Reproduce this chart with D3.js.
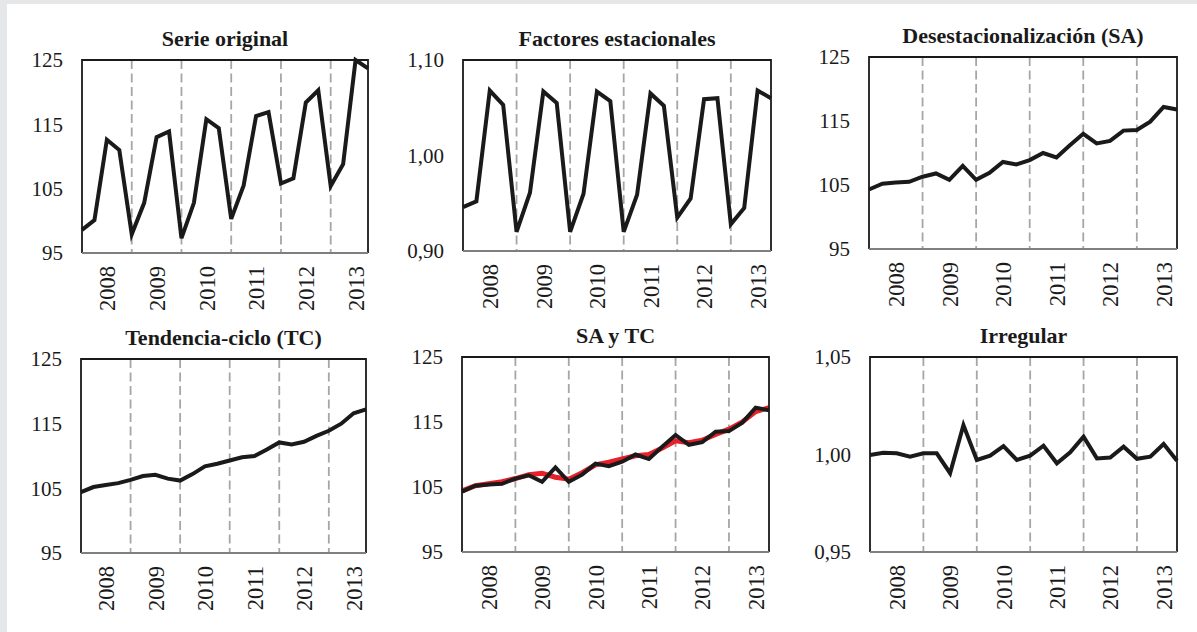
<!DOCTYPE html>
<html>
<head>
<meta charset="utf-8">
<script src="https://cdn.jsdelivr.net/npm/d3@7"></script>
<style>
  body { margin: 0; background: #e6e7e9; }
  svg { display: block; }
  text { font-family: "Liberation Serif", "Times New Roman", serif; fill: #1a1a1a; }
  .title { font-weight: bold; font-size: 22px; }
  .axis text { font-size: 21px; }
  .xaxis text { font-size: 22.5px; }
</style>
</head>
<body>
<div id="chart"></div>
<script>
// quarterly series, 24 points each
var yearLabels = ["2008", "2009", "2010", "2011", "2012", "2013"];

var serieOriginal = [98.6, 100.1, 112.6, 111.0, 97.9, 102.8, 113.0, 113.9, 97.3, 102.8, 115.8, 114.4,
    100.3, 105.5, 116.3, 116.9, 105.8, 106.6, 118.4, 120.3, 105.4, 108.8, 125.0, 123.7];

var factoresEstacionales = [0.946, 0.952, 1.068, 1.053, 0.920, 0.961, 1.067, 1.055, 0.920, 0.960, 1.067, 1.057,
    0.920, 0.959, 1.065, 1.052, 0.935, 0.955, 1.059, 1.060, 0.928, 0.945, 1.068, 1.060];

var desestacionalizada = [104.3, 105.2, 105.4, 105.5, 106.3, 106.8, 105.8, 108.0, 105.8, 106.9, 108.6, 108.2,
    108.9, 110.0, 109.3, 111.2, 113.0, 111.5, 111.9, 113.5, 113.6, 114.9, 117.2, 116.8];

var tendenciaCiclo = [104.4, 105.2, 105.5, 105.8, 106.3, 106.9, 107.1, 106.5, 106.2, 107.2, 108.4, 108.8,
    109.3, 109.8, 110.0, 111.0, 112.1, 111.8, 112.2, 113.1, 113.9, 115.0, 116.6, 117.2];

var irregular = [0.9997, 1.0009, 1.0006, 0.9989, 1.0006, 1.0006, 0.9904, 1.0151, 0.9972, 0.9994, 1.0043, 0.9972,
    0.9994, 1.0045, 0.9955, 1.0011, 1.0091, 0.998, 0.9984, 1.004, 0.9978, 0.9989, 1.0054, 0.9968];

var ticksIndice = [95, 105, 115, 125];
var ticksFactor = [0.90, 1.00, 1.10];
var ticksIrregular = [0.95, 1.00, 1.05];

var panels = [
  {title: "Serie original", box: [82, 60, 368, 253], domain: [95, 125], ticks: ticksIndice, dec: 0,
   series: [{values: serieOriginal, color: "#1a1a1a", width: 4}]},
  {title: "Factores estacionales", box: [463, 60, 771, 251], domain: [0.90, 1.10], ticks: ticksFactor, dec: 2,
   series: [{values: factoresEstacionales, color: "#1a1a1a", width: 4}]},
  {title: "Desestacionalización (SA)", box: [869, 57, 1177, 249], domain: [95, 125], ticks: ticksIndice, dec: 0,
   series: [{values: desestacionalizada, color: "#1a1a1a", width: 4}]},
  {title: "Tendencia-ciclo (TC)", box: [81, 359, 366, 553], domain: [95, 125], ticks: ticksIndice, dec: 0,
   series: [{values: tendenciaCiclo, color: "#1a1a1a", width: 4}]},
  {title: "SA y TC", box: [462, 357, 769, 552], domain: [95, 125], ticks: ticksIndice, dec: 0,
   series: [{values: tendenciaCiclo, color: "#e8202a", width: 5},
            {values: desestacionalizada, color: "#1a1a1a", width: 4}]},
  {title: "Irregular", box: [870, 357, 1177, 552], domain: [0.95, 1.05], ticks: ticksIrregular, dec: 2,
   series: [{values: irregular, color: "#1a1a1a", width: 4}]}
];

var svg = d3.select("#chart").append("svg")
    .attr("width", 1197)
    .attr("height", 632);

// white card with grey strip on top / left
svg.append("rect")
    .attr("x", 7).attr("y", 4)
    .attr("width", 1190).attr("height", 628)
    .attr("fill", "#ffffff");

panels.forEach(function(p) {
  var x0 = p.box[0], y0 = p.box[1], x1 = p.box[2], y1 = p.box[3];
  var n = p.series[0].values.length;

  var xScale = d3.scaleLinear().domain([0, n - 1]).range([x0, x1]);
  var yScale = d3.scaleLinear().domain(p.domain).range([y1, y0]);

  var g = svg.append("g");

  // dashed separators between years
  var sep = d3.range(4, n - 1, 4);
  g.selectAll("line.sep").data(sep).enter().append("line")
      .attr("class", "sep")
      .attr("x1", d => xScale(d)).attr("x2", d => xScale(d))
      .attr("y1", y0).attr("y2", y1)
      .attr("stroke", "#a6a6a6")
      .attr("stroke-width", 1.8)
      .attr("stroke-dasharray", "9,4.5");

  // y axis labels
  var fmt = function(d) { return d3.format("." + p.dec + "f")(d).replace(".", ","); };
  var yAxis = d3.axisLeft(yScale).tickValues(p.ticks).tickSize(0).tickPadding(19).tickFormat(fmt);
  g.append("g").attr("class", "axis")
      .attr("transform", "translate(" + x0 + ",0)")
      .call(yAxis)
      .call(a => a.select(".domain").remove());

  // x axis year labels, rotated
  var xAxis = d3.axisBottom(xScale)
      .tickValues(d3.range(2, n, 4))
      .tickSize(0)
      .tickFormat((d, i) => yearLabels[i]);
  var xa = g.append("g").attr("class", "axis xaxis")
      .attr("transform", "translate(0," + y1 + ")")
      .call(xAxis);
  xa.select(".domain").remove();
  xa.selectAll("text")
      .attr("transform", "rotate(-90)")
      .attr("text-anchor", "end")
      .attr("x", -13)
      .attr("y", 0)
      .attr("dy", "0.34em");

  // lines
  var line = d3.line()
      .x((d, i) => xScale(i))
      .y(d => yScale(d));

  p.series.forEach(function(s) {
    g.append("path")
        .datum(s.values)
        .attr("d", line)
        .attr("fill", "none")
        .attr("stroke", s.color)
        .attr("stroke-width", s.width)
        .attr("stroke-linejoin", "miter");
  });

  // frame
  g.append("path")
      .attr("d", "M" + x0 + "," + y1 + "V" + y0 + "H" + x1 + "V" + y1)
      .attr("fill", "none")
      .attr("stroke", "#1a1a1a")
      .attr("stroke-width", 1.8);
  g.append("line")
      .attr("x1", x0).attr("x2", x1)
      .attr("y1", y1).attr("y2", y1)
      .attr("stroke", "#7f7f7f")
      .attr("stroke-width", 2);

  // title
  g.append("text")
      .attr("class", "title")
      .attr("x", (x0 + x1) / 2)
      .attr("y", y0 - 14)
      .attr("text-anchor", "middle")
      .text(p.title);
});
</script>
</body>
</html>
